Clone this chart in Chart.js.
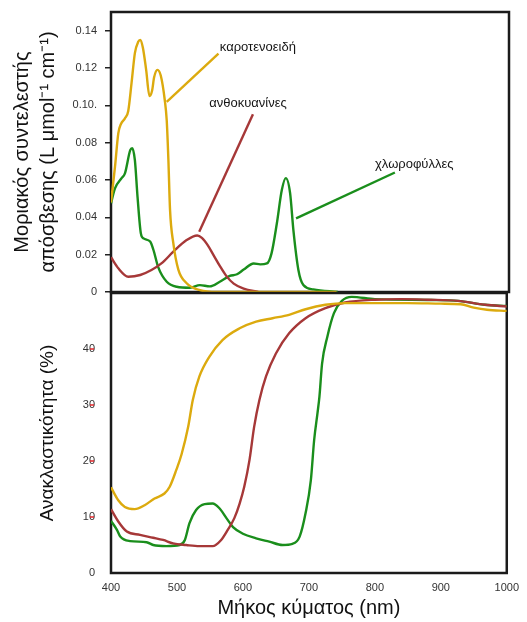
<!DOCTYPE html>
<html>
<head>
<meta charset="utf-8">
<script src="https://cdn.jsdelivr.net/npm/chart.js@4.4.1/dist/chart.umd.min.js"></script>
<style>
  body { margin: 0; background: #fff; }
  #wrap { position: relative; width: 527px; height: 622px; }
  #absChart { position: absolute; left: 0; top: 0; }
  #reflChart { position: absolute; left: 0; top: 290px; }
</style>
</head>
<body>
<div id="wrap">
  <canvas id="absChart" width="527" height="300"></canvas>
  <canvas id="reflChart" width="527" height="332"></canvas>
</div>
<script>
// Φάσματα απορρόφησης (πάνω διάγραμμα)
const carotAbsNm = [400, 406, 411, 415, 421, 426, 431, 436, 441, 444, 448, 453, 458, 462, 465, 470, 475, 481, 484, 486.5, 489, 494, 501.5, 514, 534, 560, 740];
const carotAbs = [0.048, 0.067, 0.085, 0.090, 0.093, 0.097, 0.112, 0.128, 0.134, 0.135, 0.131, 0.119, 0.105, 0.108, 0.115, 0.119, 0.116, 0.103, 0.092, 0.071, 0.044, 0.026, 0.012, 0.0047, 0.001, 0, 0];

const anthoAbsNm = [400, 411, 426, 444, 461, 476, 494, 514, 530, 537, 546, 555, 564, 574, 585, 600, 622];
const anthoAbs = [0.0186, 0.0127, 0.0082, 0.0091, 0.0118, 0.0153, 0.0216, 0.0278, 0.0303, 0.029, 0.025, 0.0195, 0.014, 0.0085, 0.0045, 0.0018, 0];

const chloroAbsNm = [400, 406, 416, 421, 429, 432, 436, 440, 445, 449, 459, 464, 471, 484, 499, 519, 534, 549, 564, 579, 590, 600, 615, 625, 635, 642, 650, 657.5, 663.5, 670, 675, 682.5, 690, 705, 742];
const chloroAbs = [0.0475, 0.0555, 0.061, 0.0635, 0.076, 0.077, 0.0706, 0.051, 0.0314, 0.0287, 0.027, 0.0225, 0.0135, 0.0055, 0.0028, 0.0023, 0.0037, 0.003, 0.0055, 0.0086, 0.0095, 0.012, 0.0153, 0.0148, 0.0153, 0.0207, 0.0367, 0.0546, 0.061, 0.053, 0.033, 0.0118, 0.0037, 0.0014, 0];

// Φάσματα ανάκλασης (κάτω διάγραμμα), σε %
const carotReflNm = [400, 411, 421, 436, 451, 466, 481, 489, 499, 507, 517, 524, 534, 549, 569, 595, 620, 645, 670, 695, 725, 755, 800, 850, 900, 930, 950, 970, 1000];
const carotRefl = [15.3, 13.0, 11.8, 11.4, 12.1, 13.3, 14.2, 15.4, 18.4, 21.2, 26.1, 30.9, 35.1, 38.6, 41.6, 43.7, 44.9, 45.5, 46.1, 47.1, 47.9, 48.2, 48.2, 48.2, 48.1, 48.0, 47.4, 47.0, 46.8];

const anthoReflNm = [400, 411, 424, 444, 464, 479, 494, 514, 534, 554, 567, 577, 587, 595, 602, 610, 617, 625, 635, 650, 670, 695, 725, 755, 800, 840, 880, 926, 967, 1000];
const anthoRefl = [11.4, 9.2, 7.4, 6.8, 6.3, 5.9, 5.3, 5.0, 4.8, 4.8, 5.9, 7.7, 9.8, 12.4, 15.4, 20.2, 26.1, 30.9, 35.1, 39.2, 42.8, 45.5, 47.3, 48.3, 48.8, 48.9, 48.8, 48.6, 47.9, 47.6];

const chloroReflNm = [400, 409, 414, 429, 454, 464, 484, 504, 512, 519, 529, 542, 554, 564, 575, 585, 600, 620, 640, 660, 675, 686, 695, 703, 708, 713, 716, 720, 728, 738, 750, 765, 800, 886, 926, 967, 1000];
const chloroRefl = [9.3, 7.7, 6.5, 5.7, 5.5, 5.0, 4.8, 5.0, 5.9, 8.9, 11.25, 12.3, 12.4, 11.6, 9.8, 8.2, 7.0, 6.2, 5.6, 5.0, 5.2, 6.5, 10.7, 16.6, 23.75, 28.5, 31.5, 37.4, 42.2, 46.4, 48.6, 49.3, 48.9, 48.75, 48.6, 47.9, 47.7];

// Γραμμές που δείχνουν από κάθε ετικέτα στην καμπύλη της
const carotLeaderNm = [484, 562];
const carotLeader = [0.1018, 0.1277];
const anthoLeaderNm = [533, 614];
const anthoLeader = [0.0323, 0.0952];
const chloroLeaderNm = [679, 828];
const chloroLeader = [0.0394, 0.064];

const pigmentNames = ["καροτενοειδή", "ανθοκυανίνες", "χλωροφύλλες"];
const pigmentLabelNm = [564, 548, 798];
const pigmentLabelVal = [0.131, 0.101, 0.0685];

// Άξονες
const absTickValues = [0, 0.02, 0.04, 0.06, 0.08, 0.10, 0.12, 0.14];
const absTickLabels = ["0", "0.02", "0.04", "0.06", "0.08", "0.10.", "0.12", "0.14"];
const reflTickValues = [0, 10, 20, 30, 40];
const reflTickLabels = ["0", "10", "20", "30", "40"];
const nmTickValues = [400, 500, 600, 700, 800, 900, 1000];

const YELLOW = "#DCAA0E";
const RED = "#A63838";
const GREEN = "#1A8E1C";
const FONT = "'Liberation Sans', Arial, sans-serif";

const pts = (xs, ys) => xs.map((x, i) => ({ x: x, y: ys[i] }));

function curve(label, xs, ys, color) {
  return {
    label: label,
    data: pts(xs, ys),
    borderColor: color,
    borderWidth: 2.4,
    pointRadius: 0,
    fill: false,
    cubicInterpolationMode: "monotone",
  };
}

function leader(xs, ys, color) {
  return {
    data: pts(xs, ys),
    borderColor: color,
    borderWidth: 2.4,
    pointRadius: 0,
    fill: false,
    tension: 0,
  };
}

// σταθερό πλάτος άξονα y ώστε τα δύο διαγράμματα να ευθυγραμμίζονται,
// χωρίς το επιπλέον περιθώριο που προσθέτουν οι ετικέτες στα άκρα
function fixedYAxis(s) {
  s.width = 111;
  s.paddingTop = 0;
  s.paddingBottom = 0;
}

// Πλαίσιο γύρω από την περιοχή σχεδίασης
const framePlugin = {
  id: "frame",
  beforeDatasetsDraw(chart) {
    const { left, top, right, bottom } = chart.chartArea;
    const ctx = chart.ctx;
    ctx.save();
    ctx.strokeStyle = "#1b1b1b";
    ctx.lineWidth = 2.5;
    ctx.strokeRect(left, top, right - left, bottom - top);
    ctx.restore();
  },
};

// Ονόματα χρωστικών πάνω στο διάγραμμα απορρόφησης
const pigmentLabelsPlugin = {
  id: "pigmentLabels",
  afterDatasetsDraw(chart) {
    const ctx = chart.ctx;
    const xs = chart.scales.x;
    const ys = chart.scales.y;
    ctx.save();
    ctx.font = "13px " + FONT;
    ctx.fillStyle = "#151515";
    ctx.textAlign = "left";
    ctx.textBaseline = "middle";
    pigmentNames.forEach((name, i) => {
      ctx.fillText(name, xs.getPixelForValue(pigmentLabelNm[i]), ys.getPixelForValue(pigmentLabelVal[i]));
    });
    ctx.restore();
  },
};

// Μικρές κόκκινες παύλες στις ετικέτες του άξονα ανάκλασης
const redMarksPlugin = {
  id: "redMarks",
  afterDraw(chart) {
    const ctx = chart.ctx;
    const ys = chart.scales.y;
    ctx.save();
    ctx.strokeStyle = "#e0262a";
    ctx.lineWidth = 1.5;
    reflTickValues.forEach((v) => {
      if (v === 0) return;
      const y = ys.getPixelForValue(v);
      ctx.beginPath();
      ctx.moveTo(ys.right - 21, y);
      ctx.lineTo(ys.right - 17, y);
      ctx.stroke();
    });
    ctx.restore();
  },
};

const absChart = new Chart(document.getElementById("absChart"), {
  type: "line",
  data: {
    datasets: [
      curve("καροτενοειδή", carotAbsNm, carotAbs, YELLOW),
      curve("ανθοκυανίνες", anthoAbsNm, anthoAbs, RED),
      curve("χλωροφύλλες", chloroAbsNm, chloroAbs, GREEN),
      leader(carotLeaderNm, carotLeader, YELLOW),
      leader(anthoLeaderNm, anthoLeader, RED),
      leader(chloroLeaderNm, chloroLeader, GREEN),
    ],
  },
  options: {
    responsive: false,
    animation: false,
    layout: { padding: { top: 12, right: 18, bottom: 8, left: 0 } },
    plugins: { legend: { display: false }, tooltip: { enabled: false } },
    scales: {
      x: { type: "linear", min: 400, max: 1000, display: false },
      y: {
        min: 0,
        max: 0.15,
        afterBuildTicks: (s) => { s.ticks = absTickValues.map((v) => ({ value: v })); },
        afterFit: fixedYAxis,
        border: { display: false },
        grid: { drawOnChartArea: false, tickLength: 6, color: "#222", lineWidth: 1.5 },
        ticks: {
          padding: 8,
          color: "#333",
          font: { family: FONT, size: 11 },
          callback: (v, i) => absTickLabels[i],
        },
        title: {
          display: true,
          text: ["Μοριακός συντελεστής", "απόσβεσης (L μmol⁻¹ cm⁻¹)"],
          color: "#111",
          font: { family: FONT, size: 20, lineHeight: 1.3 },
          padding: { top: 9, bottom: 0 },
        },
      },
    },
  },
  plugins: [framePlugin, pigmentLabelsPlugin],
});

const reflChart = new Chart(document.getElementById("reflChart"), {
  type: "line",
  data: {
    datasets: [
      curve("καροτενοειδή", carotReflNm, carotRefl, YELLOW),
      curve("ανθοκυανίνες", anthoReflNm, anthoRefl, RED),
      curve("χλωροφύλλες", chloroReflNm, chloroRefl, GREEN),
    ],
  },
  options: {
    responsive: false,
    animation: false,
    layout: { padding: { top: 3, right: 18, bottom: 0, left: 0 } },
    plugins: { legend: { display: false }, tooltip: { enabled: false } },
    scales: {
      x: {
        type: "linear",
        min: 400,
        max: 1000,
        afterBuildTicks: (s) => { s.ticks = nmTickValues.map((v) => ({ value: v })); },
        afterFit: (s) => { s.height = 49; },
        border: { display: false },
        grid: { display: false, drawTicks: false },
        ticks: {
          padding: 8,
          color: "#333",
          font: { family: FONT, size: 11 },
          callback: (v) => String(v),
        },
        title: {
          display: true,
          text: "Μήκος κύματος (nm)",
          color: "#111",
          font: { family: FONT, size: 20, lineHeight: 1.2 },
          padding: { top: 0, bottom: 2 },
        },
      },
      y: {
        min: 0,
        max: 50,
        afterBuildTicks: (s) => { s.ticks = reflTickValues.map((v) => ({ value: v })); },
        afterFit: fixedYAxis,
        border: { display: false },
        grid: { display: false, drawTicks: false },
        ticks: {
          padding: 16,
          color: "#333",
          font: { family: FONT, size: 11 },
          callback: (v, i) => reflTickLabels[i],
        },
        title: {
          display: true,
          text: "Ανακλαστικότητα (%)",
          color: "#111",
          font: { family: FONT, size: 19, lineHeight: 1.2 },
          padding: { top: 36, bottom: 0 },
        },
      },
    },
  },
  plugins: [framePlugin, redMarksPlugin],
});
</script>
</body>
</html>
